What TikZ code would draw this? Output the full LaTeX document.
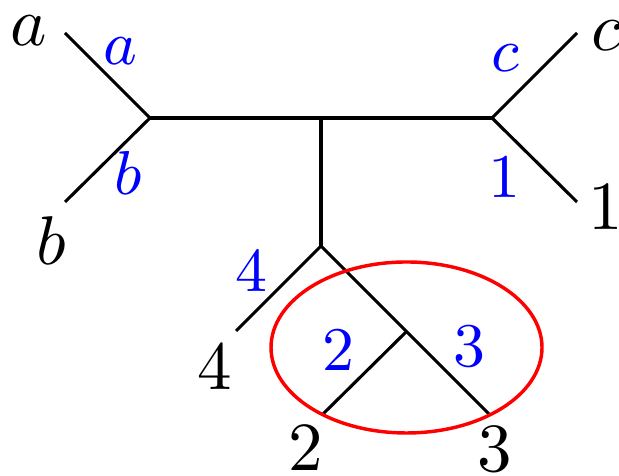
\documentclass[tikz,border=0pt]{standalone}
\usepackage{tikz}
\tikzset{
  edge/.style={draw=black, line width=0.45pt},
  leaf/.style={font=\normalsize, text=black, inner sep=0pt},
  weight/.style={font=\small, text=blue, inner sep=0pt},
  cut/.style={draw=red, line width=0.5pt}
}

\begin{document}
\begin{tikzpicture}[x=0.145pt, y=-0.145pt]
  \useasboundingbox (0,0) rectangle (619,476);
  % tree vertices
  \coordinate (ab) at (150,118);
  \coordinate (c1) at (492,118);
  \coordinate (mid) at (321,118);
  \coordinate (down) at (321,246);
  \coordinate (in) at (406,332);
  % leaves
  \coordinate (la) at (65,33);
  \coordinate (lb) at (65,202);
  \coordinate (lc) at (577,33);
  \coordinate (l1) at (577,202);
  \coordinate (l4) at (236,331);
  \coordinate (l2) at (323,414);
  \coordinate (l3) at (490,415);

  \draw[edge] (la) -- (ab) -- (lb);
  \draw[edge] (ab) -- (c1);
  \draw[edge] (lc) -- (c1) -- (l1);
  \draw[edge] (mid) -- (down);
  \draw[edge] (l4) -- (down) -- (l3);
  \draw[edge] (in) -- (l2);

  % leaf names
  \node[leaf] (na) at (29,31) {$a$};
  \node[leaf] (nb) at (51,241) {$b$};
  \node[leaf] (nc) at (606,36) {$c$};
  \node[leaf] (n1) at (606,207) {1};
  \node[leaf] (n4) at (215,366) {4};
  \node[leaf] (n2) at (306,448) {2};
  \node[leaf] (n3) at (495,449) {3};

  % blue edge labels
  \node[weight] (wa) at (120,51) {$a$};
  \node[weight] (wb) at (128,173) {$b$};
  \node[weight] (wc) at (505,58) {$c$};
  \node[weight] (w1) at (504,177) {1};
  \node[weight] (w4) at (251,271) {4};
  \node[weight] (w2) at (338,350) {2};
  \node[weight] (w3) at (469,347) {3};

  \draw[cut] (406.5,347.5) ellipse [x radius=135.5, y radius=85.5];
\end{tikzpicture}
\end{document}
